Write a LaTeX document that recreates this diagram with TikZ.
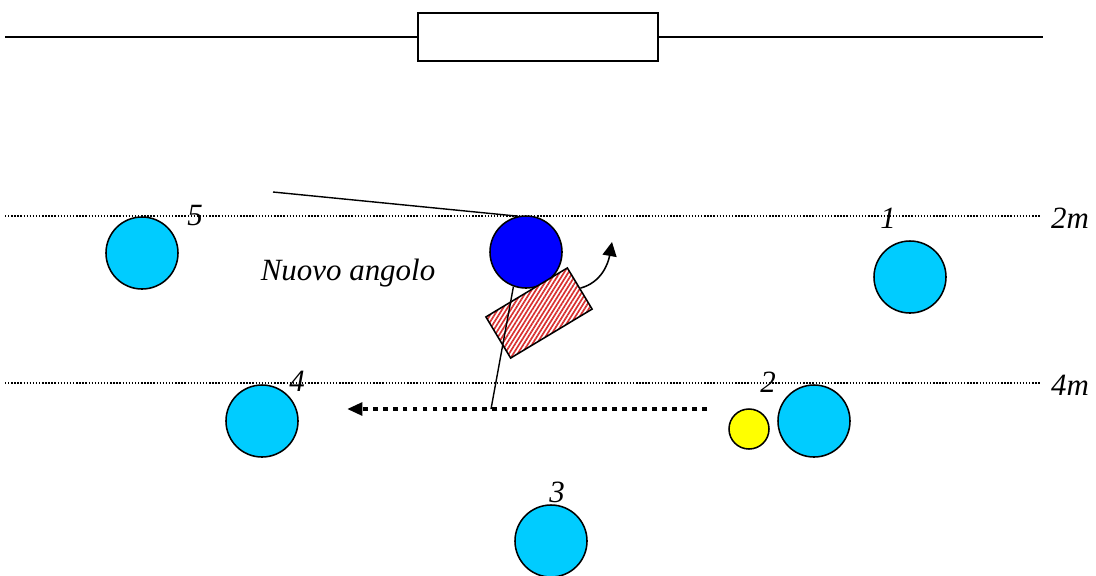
\documentclass[tikz,border=0pt]{standalone}
\usepackage{fontspec}
\setmainfont{Liberation Serif}
\usetikzlibrary{arrows.meta,patterns.meta}
\definecolor{ballcyan}{HTML}{00CCFF}
\definecolor{ballblue}{HTML}{0000FF}
\definecolor{ballyellow}{HTML}{FFFF00}
\definecolor{hatchred}{HTML}{D83030}
\tikzset{
ball/.style={circle,draw=black,line width=1.1pt,fill=ballcyan,minimum size=1.8cm,inner sep=0pt},
small/.style={ball,fill=ballyellow,minimum size=1cm},
board/.style={draw=black,line width=1.1pt,minimum width=2.375cm,minimum height=1.2cm,inner sep=0pt,
  preaction={fill=white},pattern={Lines[angle=58,distance=2.6pt,line width=1.2pt]},pattern color=hatchred},
field/.style={draw=black,line width=1.3pt,minimum width=6cm,minimum height=1.2cm,inner sep=0pt},
wire/.style={line width=1.3pt},
guide/.style={line width=1pt,dash pattern=on 1pt off 1.2pt},
cue line/.style={line width=1pt},
arr/.style={-{Triangle[length=10pt,width=10pt]},line width=1.1pt},
run/.style={-{Triangle[length=11pt,width=9pt]},line width=2.8pt,dash pattern=on 3.5pt off 3.6pt},
lbl/.style={font=\fontsize{22}{26}\selectfont\itshape,inner sep=0pt}}
\begin{document}
\begin{tikzpicture}[x=0.025cm,y=0.025cm]
\useasboundingbox (0,0) rectangle (1096,-575);
% top border
\node[field] (goal) at (538,-37) {};
\coordinate (wl) at (5,-37);
\coordinate (wr) at (1043,-37);
\draw[wire] (wl)--(goal);
\draw[wire] (goal)--(wr);
% distance lines
\coordinate (g2a) at (5,-216);
\coordinate (g2b) at (1040,-216);
\coordinate (g4a) at (5,-383);
\coordinate (g4b) at (1040,-383);
\draw[guide] (g2a)--(g2b);
\draw[guide] (g4a)--(g4b);
\node[lbl] (m2) at (1070,-218) {2m};
\node[lbl] (m4) at (1070,-385) {4m};
% balls
\node[ball] (b5) at (142,-253) {};
\node[ball] (b1) at (910,-277) {};
\node[ball] (b4) at (262,-421) {};
\node[ball] (b2) at (814,-421) {};
\node[ball] (b3) at (551,-541) {};
\node[small] (yel) at (749,-429) {};
\node[ball,fill=ballblue] (cue) at (526,-252) {};
\node[lbl] (n5) at (195,-216) {5};
\node[lbl] (n1) at (888,-218) {1};
\node[lbl] (n4) at (297,-381) {4};
\node[lbl] (n2) at (768,-382) {2};
\node[lbl] (n3) at (557,-492) {3};
\node[lbl] (angle) at (348,-273) {Nuovo angolo};
% player
\node[board,rotate=31] (player) at (539,-313) {};
\coordinate (far) at (273,-192);
\coordinate (aim) at (491,-409);
\coordinate (tip) at (612,-242);
\coordinate (runa) at (707,-409);
\coordinate (runb) at (347,-409);
\draw[cue line] (far)--(cue.103);
\draw[cue line] (cue.250)--(aim);
\draw[arr] (player.east) to[out=15,in=-100] (tip);
\draw[run] (runa)--(runb);
\end{tikzpicture}
\end{document}
